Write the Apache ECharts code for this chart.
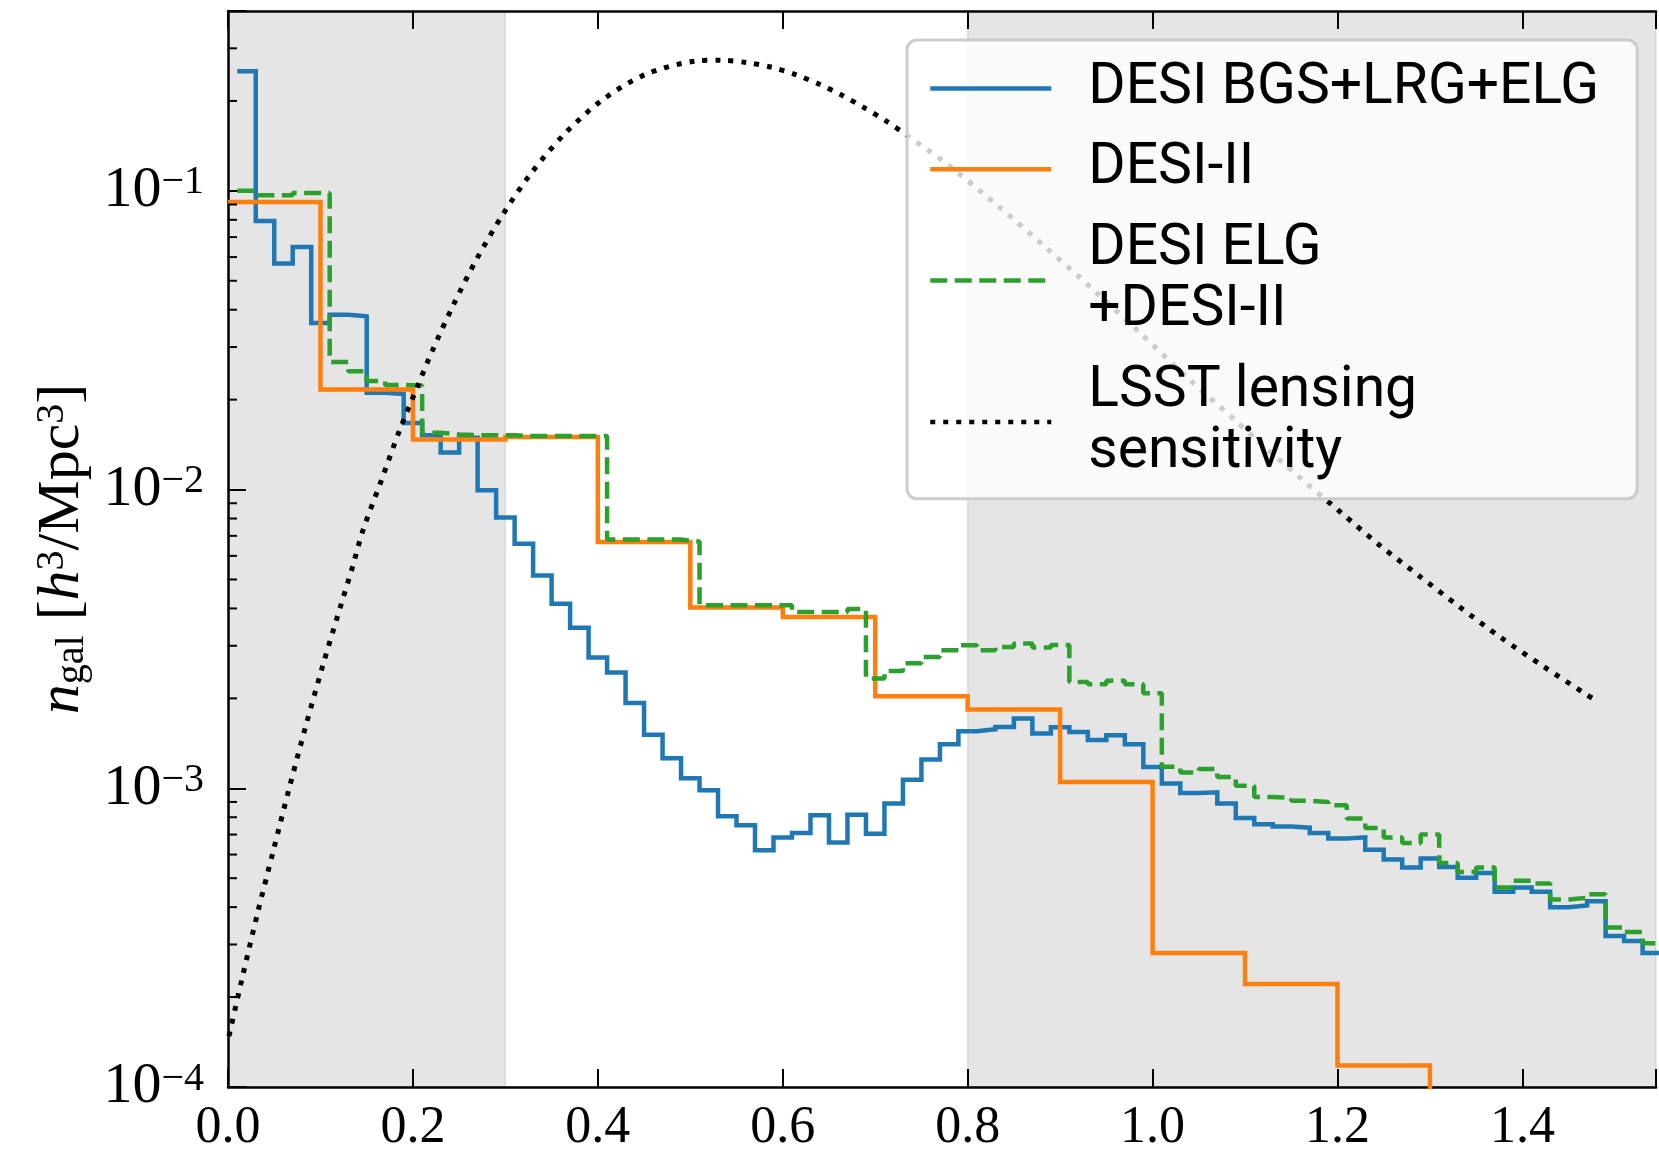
<!DOCTYPE html>
<html><head><meta charset="utf-8">
<script src="https://cdn.jsdelivr.net/npm/echarts@6/dist/echarts.min.js"></script>
<style>html,body{margin:0;padding:0;background:#fff}#c{width:1659px;height:1158px}</style>
</head><body><div id="c"></div>
<script>
// ---- data ----
// fine redshift bin edges (bin width 0.02)
const fineEdges = [0.01,0.03,0.05,0.07,0.09,0.11,0.13,0.15,0.17,0.19,
  0.21,0.23,0.25,0.27,0.29,0.31,0.33,0.35,0.37,0.39,
  0.41,0.43,0.45,0.47,0.49,0.51,0.53,0.55,0.57,0.59,
  0.61,0.63,0.65,0.67,0.69,0.71,0.73,0.75,0.77,0.79,
  0.81,0.83,0.85,0.87,0.89,0.91,0.93,0.95,0.97,0.99,
  1.01,1.03,1.05,1.07,1.09,1.11,1.13,1.15,1.17,1.19,
  1.21,1.23,1.25,1.27,1.29,1.31,1.33,1.35,1.37,1.39,
  1.41,1.43,1.45,1.47,1.49,1.51,1.53,1.55];
// DESI BGS+LRG+ELG
const blueVals = [0.2514,0.0793,0.0571,0.0649,0.0361,0.0385,0.0380,0.0211,0.0209,0.0167,
  0.0152,0.0133,0.0149,0.00995,0.00806,0.00659,0.00516,0.00415,0.00345,0.00274,
  0.00244,0.00193,0.00151,0.00126,0.00108,0.000985,0.000806,0.000752,0.000620,0.000684,
  0.000709,0.000812,0.000658,0.000816,0.000705,0.000889,0.001069,0.001248,0.001404,0.001552,
  0.001576,0.001604,0.001711,0.001524,0.001600,0.001543,0.001452,0.001504,0.001404,0.001179,
  0.001037,0.000964,0.000970,0.000889,0.000796,0.000758,0.000745,0.000738,0.000709,0.000679,
  0.000685,0.000623,0.000577,0.000543,0.000582,0.000545,0.000502,0.000520,0.000450,0.000465,
  0.000450,0.000400,0.000405,0.000419,0.000320,0.000308,0.000281];
// DESI ELG + DESI-II
const greenVals = [0.1000,0.0967,0.0967,0.0984,0.0984,0.02675,0.0249,0.0231,0.0224,0.0223,
  0.0155,0.0153,0.0152,0.0152,0.0152,0.0151,0.0151,0.0151,0.0151,0.0151,
  0.0068,0.0068,0.0068,0.0068,0.0067,0.0041,0.0041,0.0041,0.0041,0.0041,
  0.00389,0.00389,0.00389,0.00398,0.00233,0.00247,0.00262,0.00275,0.00290,0.00301,
  0.00290,0.00297,0.00305,0.00296,0.00302,0.00227,0.00223,0.00229,0.00223,0.00208,
  0.00118,0.00113,0.00116,0.00109,0.00102,0.000935,0.00093,0.000908,0.000900,0.000877,
  0.000792,0.000736,0.000684,0.000656,0.000700,0.000562,0.000525,0.000543,0.000465,0.000490,
  0.000480,0.000424,0.000430,0.000442,0.000342,0.000330,0.000303];
// coarse bins (width 0.1) for DESI-II
const coarseEdges = [0.0,0.1,0.2,0.3,0.4,0.5,0.6,0.7,0.8,0.9,1.0,1.1,1.2,1.3,1.4];
// last bin falls below the axis floor
const orangeVals = [0.0918,0.02162,0.01470,0.01500,0.00667,0.00403,0.003748,0.002032,0.001834,0.00105,0.000281,0.000221,0.000118,0.000001];
// LSST lensing sensitivity curve
const lsstZ = [0.001,0.0165,0.0324,0.0493,0.0662,0.0842,0.1029,0.1227,0.1349,0.146,0.1659,0.1856,0.2054,
  0.2209,0.2439,0.2691,0.2972,0.3281,0.3637,0.4044,0.4519,0.5051,0.5332,0.5605,0.5879,0.6138,0.6397,
  0.6641,0.6879,0.7116,0.7343,0.7793,0.8332,0.8847,0.9358,0.9872,1.0376,1.0887,1.1096,1.1606,1.2031,
  1.2456,1.2887,1.3319,1.3765,1.4226,1.4693,1.4808];
const lsstN = [1.48e-4,2.40e-4,3.87e-4,6.23e-4,1.00e-3,1.62e-3,2.60e-3,4.16e-3,5.54e-3,7.31e-3,1.074e-2,1.58e-2,2.23e-2,
  2.91e-2,4.16e-2,5.92e-2,8.33e-2,0.1148,0.1547,0.2010,0.2457,0.2716,0.2737,0.2689,0.2593,0.2451,0.2274,
  0.2089,0.1900,0.1714,0.1535,0.1218,0.0888,0.0646,0.0467,0.0333,0.0237,0.01715,0.01493,0.01088,0.00841,
  0.00651,0.00513,0.00405,0.00320,0.00256,0.00206,0.00196];
// shaded redshift ranges
const shadeBands = [[0.0, 0.3], [0.8, 1.6]];
// axis ticks
const xTicks = [0.0,0.2,0.4,0.6,0.8,1.0,1.2,1.4];
const yMinorTicks = [2e-4,3e-4,4e-4,5e-4,6e-4,7e-4,8e-4,9e-4,
  2e-3,3e-3,4e-3,5e-3,6e-3,7e-3,8e-3,9e-3,
  2e-2,3e-2,4e-2,5e-2,6e-2,7e-2,8e-2,9e-2,
  2e-1,3e-1];
const seriesNames = ['DESI BGS+LRG+ELG','DESI-II','DESI ELG+DESI-II','LSST lensing sensitivity'];
const legendText = {'DESI BGS+LRG+ELG':'DESI BGS+LRG+ELG','DESI-II':'DESI-II',
  'DESI ELG+DESI-II':'DESI ELG\n+DESI-II','LSST lensing sensitivity':'LSST lensing\nsensitivity'};

function steps(edges, vals){
  const d = vals.map((v,i)=>[edges[i], v]);
  d.push([edges[vals.length], vals[vals.length-1]]);
  return d;
}
const X_MAX = 1.5445;
const serif = 'Liberation Serif';

const chart = echarts.init(document.getElementById('c'), null, {renderer:'canvas', width:1659, height:1158});

const axisLineStyle = {color:'#000', width:2.5};
const tickStyle = {color:'#000', width:2};

const option = {
  animation: false,
  backgroundColor: '#ffffff',
  grid: {left: 228, right: 0, top: 11, bottom: 71, containLabel: false},
  legend: {
    show: true, orient: 'vertical', left: 907, top: 40,
    padding: [18, 38, 16, 21],
    itemWidth: 121, itemHeight: 14, itemGap: 20,
    selectedMode: false,
    backgroundColor: 'rgba(255,255,255,0.8)',
    borderColor: '#cccccc', borderWidth: 3, borderRadius: 10,
    lineStyle: {width: 4.5},
    itemStyle: {color: 'rgba(0,0,0,0)', borderWidth: 0, opacity: 0},
    textStyle: {fontFamily: 'Roboto', fontSize: 57, lineHeight: 60.8, color: '#000', padding: [0,0,0,32]},
    formatter: n => legendText[n],
    data: seriesNames
  },
  xAxis: [
    {type:'value', min:0, max:X_MAX, interval:0.2, position:'bottom',
     axisLine:{show:true, onZero:false, lineStyle:axisLineStyle},
     axisTick:{show:true, inside:true, length:18, lineStyle:tickStyle},
     axisLabel:{show:true, margin:15, color:'#000', fontFamily:serif, fontSize:52, lineHeight:52,
       formatter: v => xTicks.some(t => Math.abs(t - v) < 1e-6) ? v.toFixed(1) : ''},
     splitLine:{show:false}, minorTick:{show:false}},
    {type:'value', min:0, max:X_MAX, interval:0.2, position:'top',
     axisLine:{show:true, onZero:false, lineStyle:axisLineStyle},
     axisTick:{show:true, inside:true, length:18, lineStyle:tickStyle},
     axisLabel:{show:false}, splitLine:{show:false}}
  ],
  yAxis: {
    type:'log', logBase:10, min:1e-4, max:0.4,
    axisLine:{show:true, onZero:false, lineStyle:axisLineStyle},
    axisTick:{show:true, inside:true, length:18, lineStyle:tickStyle},
    axisLabel:{margin:24,
      formatter: v => { const e = Math.log10(v); const r = Math.round(e);
        return Math.abs(e - r) < 1e-6 ? '{b|10}{s|\u2212' + (-r) + '}' : ''; },
      rich:{
        b:{fontFamily:serif, fontSize:58, lineHeight:56, color:'#000'},
        s:{fontFamily:serif, fontSize:40, lineHeight:30, verticalAlign:'top', color:'#000'}
      }},
    splitLine:{show:false}, minorTick:{show:false},
    name: '{i|n}{sub|gal} [{i|h}{sup|3}/Mpc{sup|3}]',
    nameLocation:'middle', nameRotate:90, nameGap:132,
    nameTextStyle:{fontFamily:serif, fontSize:60, color:'#000',
      rich:{
        i:{fontFamily:serif, fontStyle:'italic', fontSize:60, color:'#000'},
        sub:{fontFamily:serif, fontSize:40, lineHeight:36, verticalAlign:'bottom', color:'#000'},
        sup:{fontFamily:serif, fontSize:40, lineHeight:30, verticalAlign:'top', color:'#000'}
      }}
  },
  series: [
    {type:'line', name:'bands', data:[], z:1, silent:true,
     markArea:{silent:true,
       itemStyle:{color:'rgba(0,0,0,0.1)', borderColor:'rgba(0,0,0,0.08)', borderWidth:2},
       data: shadeBands.map(b => [{xAxis:b[0]}, {xAxis:b[1]}])}},
    {type:'line', name:seriesNames[0], step:'end', symbol:'none', showSymbol:false, z:3,
     lineStyle:{color:'#1f77b4', width:4.5, join:'miter'}, itemStyle:{color:'#1f77b4'},
     data: steps(fineEdges, blueVals)},
    {type:'line', name:seriesNames[1], step:'end', symbol:'none', showSymbol:false, z:3,
     lineStyle:{color:'#ff7f0e', width:4.5, join:'miter'}, itemStyle:{color:'#ff7f0e'},
     data: steps(coarseEdges, orangeVals)},
    {type:'line', name:seriesNames[2], step:'end', symbol:'none', showSymbol:false, z:3,
     lineStyle:{color:'#2ca02c', width:4.5, type:[17,7.5], cap:'butt'}, itemStyle:{color:'#2ca02c'},
     data: steps(fineEdges, greenVals)},
    {type:'line', name:seriesNames[3], smooth:0.3, symbol:'none', showSymbol:false, z:3,
     lineStyle:{color:'#000', width:5, type:[5,8], cap:'butt'}, itemStyle:{color:'#000'},
     data: lsstZ.map((z,i)=>[z, lsstN[i]])},
    {type:'custom', name:'minorTicks', silent:true, clip:false, z:5,
     data: yMinorTicks.map(v => [0, v]),
     renderItem: (params, api) => {
       const p = api.coord([0, api.value(1)]);
       return {type:'line', shape:{x1:p[0], y1:p[1], x2:p[0] + 9, y2:p[1]},
               style:{stroke:'#000', lineWidth:2}};
     }}
  ]
};
chart.setOption(option);
</script>
</body></html>
